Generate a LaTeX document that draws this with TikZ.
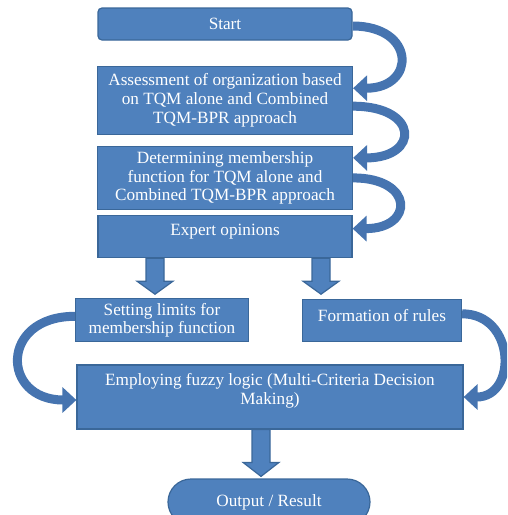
\documentclass[tikz,border=0pt]{standalone}
\usepackage{fontspec}
\setmainfont{Liberation Serif}
\usetikzlibrary{arrows.meta,positioning,calc,shapes.misc}

\definecolor{boxblue}{HTML}{4F81BD}
\definecolor{edgeblue}{HTML}{3A6799}
\definecolor{bendblue}{HTML}{4674B0}

\begin{document}
\begin{tikzpicture}[x=1pt,y=1pt,
  box/.style={rectangle,fill=boxblue,draw=edgeblue,line width=1.2pt,text=white,
    align=center,font=\fontsize{17.2}{18.7}\selectfont,inner sep=2pt},
  bend arrow/.style={draw=bendblue,line width=9pt,-{Triangle[width=25pt,length=14pt]}},
  block arrow/.style={fill=boxblue,draw=edgeblue,line width=1.2pt}]

  \useasboundingbox (0,0) rectangle (507,-515);
  \clip (0,0) rectangle (507,-515);

  \node[box,rounded corners=4pt,minimum width=254pt,minimum height=32pt] (start) at (225,-24) {Start};
  \node[box,minimum width=255pt,minimum height=68pt] (assess) [below=25pt of start]
    {Assessment of organization based\\on TQM alone and Combined\\TQM-BPR approach};
  \node[box,minimum width=255pt,minimum height=63pt] (determ) [below=11pt of assess]
    {Determining membership\\function for TQM alone and\\Combined TQM-BPR approach};
  \node[box,minimum width=254pt,minimum height=42pt,text depth=13pt] (expert) [below=5pt of determ] {Expert opinions};
  \node[box,minimum width=173pt,minimum height=43pt] (setting) [below=40pt of expert,xshift=-63pt]
    {Setting limits for\\membership function};
  \node[box,minimum width=159pt,minimum height=42pt,text depth=10pt] (formation) [below=41pt of expert,xshift=157pt] {Formation of rules};
  \node[box,minimum width=386pt,minimum height=64pt,text depth=16pt] (employ) at (270,-397)
    {Employing fuzzy logic (Multi-Criteria Decision\\Making)};
  \node[box,rounded rectangle,minimum width=206pt,minimum height=46pt] (output) at (269,-502) {Output / Result};

  % curved arrows down the right side
  \draw[bend arrow] ([yshift=-2pt]start.east) to[out=0,in=0,looseness=2.6] ([yshift=12pt]assess.east);
  \draw[bend arrow] ([yshift=-6pt]assess.east) to[out=0,in=0,looseness=3.3] ([yshift=20pt]determ.east);
  \draw[bend arrow] (determ.east) to[out=0,in=0,looseness=3.1] ([yshift=8pt]expert.east);
  \draw[bend arrow] ([yshift=4pt]setting.west) to[out=180,in=180,looseness=2.3] ([yshift=-3pt]employ.west);
  \draw[bend arrow] ([yshift=7pt]formation.east) to[out=0,in=0,looseness=1.65] (employ.east);

  % block arrows
  \coordinate (a1) at ($(expert.south)+(-70,0)$);
  \coordinate (a2) at ($(a1 |- setting.north)+(0,4)$);
  \coordinate (b1) at ($(expert.south)+(96,0)$);
  \coordinate (b2) at ($(b1 |- formation.north)+(0,5)$);
  \coordinate (c1) at ($(employ.south)+(-9,0)$);
  \coordinate (c2) at ($(c1 |- output.north)+(0,2)$);
  \draw[block arrow] ([xshift=-9pt]a1) -- ([xshift=-9pt,yshift=13pt]a2) -- ([xshift=-18pt,yshift=13pt]a2) -- (a2)
    -- ([xshift=18pt,yshift=13pt]a2) -- ([xshift=9pt,yshift=13pt]a2) -- ([xshift=9pt]a1) -- cycle;
  \draw[block arrow] ([xshift=-9pt]b1) -- ([xshift=-9pt,yshift=13pt]b2) -- ([xshift=-18pt,yshift=13pt]b2) -- (b2)
    -- ([xshift=18pt,yshift=13pt]b2) -- ([xshift=9pt,yshift=13pt]b2) -- ([xshift=9pt]b1) -- cycle;
  \draw[block arrow] ([xshift=-9pt]c1) -- ([xshift=-9pt,yshift=14pt]c2) -- ([xshift=-18pt,yshift=14pt]c2) -- (c2)
    -- ([xshift=18pt,yshift=14pt]c2) -- ([xshift=9pt,yshift=14pt]c2) -- ([xshift=9pt]c1) -- cycle;
\end{tikzpicture}
\end{document}
